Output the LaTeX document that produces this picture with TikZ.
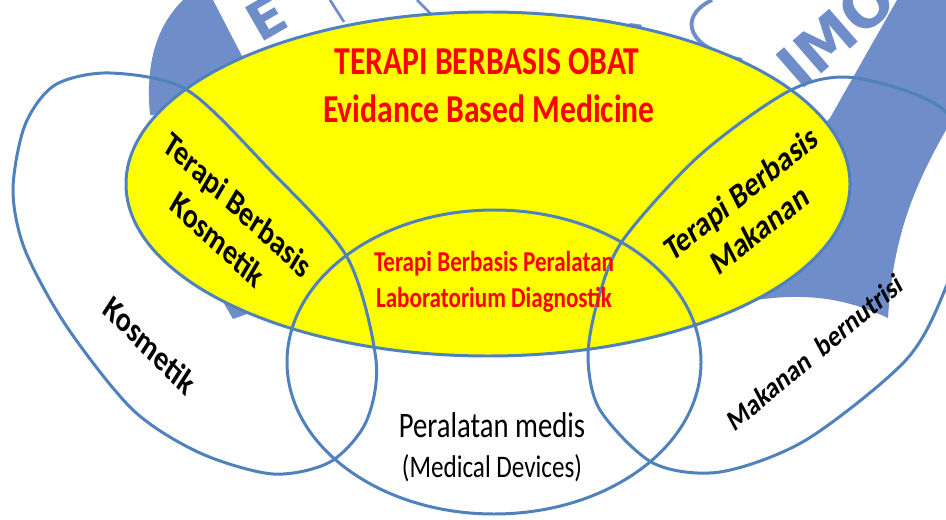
\documentclass[tikz,border=0pt]{standalone}
\usepackage{fontspec}
\setmainfont{Carlito}
\newfontfamily\wmfont{DejaVu Sans}
\definecolor{lineblue}{HTML}{4F81BD}
\definecolor{wmblue}{HTML}{6F8DC8}
\definecolor{txtred}{HTML}{FF0000}
\definecolor{yel}{HTML}{FFFF00}
\begin{document}
\begin{tikzpicture}[x=0.02cm,y=-0.02cm,
  outline/.style={draw=lineblue, line width=1.7pt},
  wmletter/.style={text=wmblue, inner sep=0pt, font=\wmfont\bfseries\fontsize{30}{30}\selectfont},
  ttl/.style={text=txtred, inner sep=0pt, xscale=0.8, font=\fontsize{22.5}{27}\selectfont\bfseries},
  midred/.style={text=txtred, inner sep=0pt, xscale=0.8, font=\fontsize{16.4}{19}\selectfont\bfseries},
  blk/.style={text=black, inner sep=0pt, xscale=0.8, align=center, font=\fontsize{20}{24.5}\selectfont\bfseries},
  outer/.style={text=black, inner sep=0pt, xscale=0.8, font=\fontsize{20}{24}\selectfont\bfseries},
  devtxt/.style={text=black, inner sep=0pt, xscale=0.8, font=\fontsize{20.4}{24}\selectfont},
  devsub/.style={text=black, inner sep=0pt, xscale=0.8, font=\fontsize{17.9}{22}\selectfont}]
\useasboundingbox (0,0) rectangle (946,520);
\fill[white] (0,0) rectangle (946,520);
\clip (0,0) rectangle (946,520);
% watermark logo (partly hidden)
\fill[wmblue] (183,0) .. controls (158,25) and (145,60) .. (150,115) -- (335,115) -- (335,28) -- (242,56) -- (213,0) -- cycle;
\fill[wmblue] (897,0) -- (960,0) -- (960,128) -- (946,130) .. controls (915,185) and (893,235) .. (888,318) .. controls (850,300) and (810,292) .. (756,300) -- (765,230) -- (810,140) -- (830,118) -- cycle;
\fill[wmblue] (222,300) -- (233,319) -- (258,310) -- cycle;
\node[wmletter, rotate=30] (wE) at (266,18) {E};
\node[wmletter, rotate=-8] (wNA) at (612,40) {NA};
\node[wmletter, rotate=41, anchor=base west, font=\wmfont\bfseries\fontsize{34}{34}\selectfont] (wIMO) at (800,92) {IMO};
\draw[wmblue, line width=2.2pt] (712,0) .. controls (675,18) and (690,50) .. (742,60);
\draw[wmblue, line width=1.5pt] (330,0) -- (344,22);
\draw[wmblue, line width=1.5pt] (417,0) -- (431,14);
% main yellow ellipse
\draw[outline, fill=yel] (488,184) ellipse [x radius=362, y radius=172];
% left loop (Kosmetik)
\draw[outline] plot[smooth cycle] coordinates {(110,73) (187,90) (267,167) (347,257) (376,360) (366,422) (330,462) (273,474) (200,453) (133,410) (67,327) (25,250) (13,190) (25,125) (55,85)};
% right loop (Makanan)
\draw[outline] plot[smooth cycle] coordinates {(791,90) (856,78) (946,112) (972,200) (946,287) (906,360) (806,440) (720,472) (653,463) (600,410) (588,357) (598,300) (623,240) (700,155)};
% medical devices ellipse
\draw[outline] (494,362) ellipse [x radius=207, y radius=152];
% texts
\node[ttl, anchor=base] (t1) at (487,75) {TERAPI BERBASIS OBAT};
\node[ttl, anchor=base] (t2) at (489,123) {Evidance Based Medicine};
\node[midred, anchor=base] (l1) at (494,271) {Terapi Berbasis Peralatan};
\node[midred, anchor=base] (l2) at (494,307) {Laboratorium Diagnostik};
\node[devtxt, anchor=base] (p1) at (492,437) {Peralatan medis};
\node[devsub, anchor=base] (p2) at (492,477) {(Medical Devices)};
\node[blk, rotate=-36.5] (kb) at (228,222) {Terapi Berbasis\\Kosmetik};
\node[blk, rotate=32.6] (mb) at (750,211) {Terapi Berbasis\\Makanan};
\node[outer, rotate=-39] (ko) at (150,345) {Kosmetik};
\node[outer, rotate=33.9, font=\fontsize{17.3}{20}\selectfont\bfseries] (mk) at (815,352) {Makanan\ \ bernutrisi};
\end{tikzpicture}
\end{document}
